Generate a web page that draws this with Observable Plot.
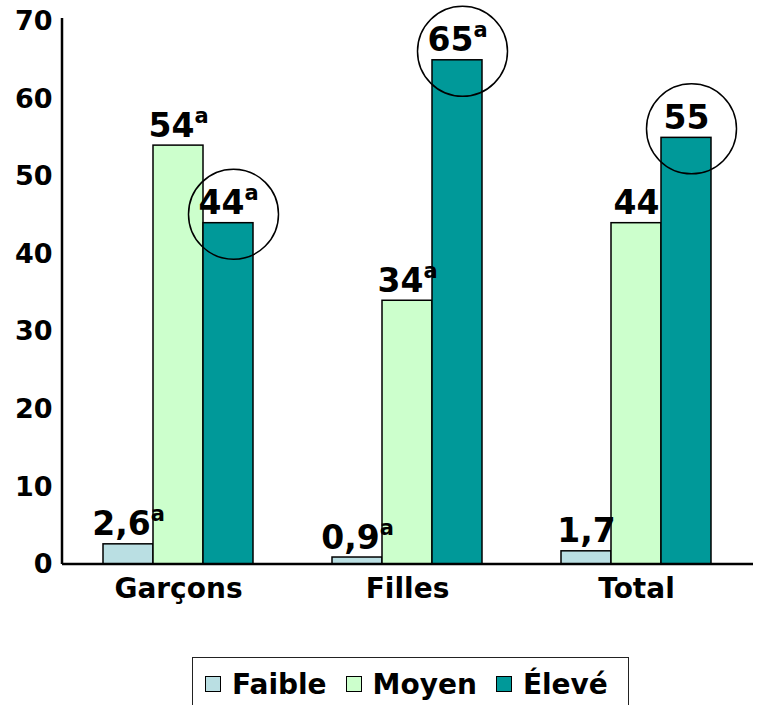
<!DOCTYPE html>
<html><head><meta charset="utf-8">
<script src="https://cdn.jsdelivr.net/npm/d3@7"></script>
<script src="https://cdn.jsdelivr.net/npm/@observablehq/plot@0.6"></script>
<style>
html,body{margin:0;padding:0;background:#fff;overflow:hidden}
#wrap{position:relative;width:759px;height:705px}
#legend{position:absolute;left:192px;top:657px;width:437px;height:60px;border:1.5px solid #222;box-sizing:border-box;display:flex;align-items:center;padding:0 0 6px 12px;font-family:"DejaVu Sans";font-weight:bold;font-size:28px;color:#000}
.item{display:flex;align-items:center;margin-right:19px}
.sw{width:14px;height:14px;border:1.5px solid #000;margin-right:11px}
</style></head><body><div id="wrap"><div id="chart"></div><div id="legend"></div></div>
<script>
const groupes = ["Garçons", "Filles", "Total"];
const niveaux = ["Faible", "Moyen", "Élevé"];
const faible = [2.6, 0.9, 1.7];
const moyen = [54, 34, 44];
const eleve = [44, 65, 55];
const exposant = [true, true, false];
const couleurs = ["#BADFE3", "#CCFFCC", "#009999"];
const yTicks = [0, 10, 20, 30, 40, 50, 60, 70];
const cercles = ["Élevé"];

const series = [faible, moyen, eleve];
const rows = [];
groupes.forEach((g, i) => niveaux.forEach((n, j) => rows.push({groupe: g, niveau: n, valeur: series[j][i], sup: exposant[i]})));

const fmt = v => String(v).replace(".", ",");
const font = "DejaVu Sans";

const plot = Plot.plot({
  width: 759, height: 620,
  marginLeft: 62, marginRight: 6, marginTop: 21, marginBottom: 56,
  style: {fontFamily: font, fontWeight: "bold", color: "#000", background: "#fff"},
  facet: {data: rows, x: "groupe"},
  fx: {domain: groupes, paddingInner: 0.335, paddingOuter: 0.17, label: null, axis: null},
  x: {domain: niveaux, axis: null, padding: 0},
  y: {domain: [0, 70], axis: null, label: null},
  color: {domain: niveaux, range: couleurs},
  marks: [
    Plot.axisY({ticks: yTicks, tickSize: 0, tickPadding: 10, fontSize: 27, fontWeight: "bold", label: null, fill: "#000"}),
    Plot.axisFx({anchor: "bottom", tickSize: 0, tickPadding: 14, fontSize: 28, fontWeight: "bold", label: null, fill: "#000"}),
    Plot.barY(rows, {x: "niveau", y: "valeur", fill: "niveau", stroke: "#000", strokeWidth: 1.5}),
    Plot.text(rows, {x: "niveau", y: "valeur", text: d => fmt(d.valeur) + (d.sup ? "^a" : ""), lineAnchor: "bottom", dy: -9, fontSize: 33, fontWeight: "bold", fill: "#000"}),
    Plot.dot(rows, {filter: d => cercles.includes(d.niveau), x: "niveau", y: "valeur", r: 45, fill: "none", stroke: "#000", strokeWidth: 1.5, dx: 5, dy: -9})
  ]
});

const svg = d3.select(plot);

// superscript "a"
svg.selectAll("text").each(function() {
  const t = this.textContent;
  if (t.includes("^")) {
    const [a, b] = t.split("^");
    this.textContent = a;
    d3.select(this).append("tspan").attr("dy", -14).attr("font-size", 21).text(b);
  }
});

// scales from Plot
const ys = plot.scale("y"), fxs = plot.scale("fx");
const y0 = ys.range[0], yTop = ys.range[1];
const xL = fxs.range[0], xR = fxs.range[1];

// move the y axis (drawn in the first facet) to the outer left edge of the frame
const decalage = fxs.apply(groupes[0]) - xL;
svg.selectAll("g[aria-label]").filter(function() {
  return /^y-axis/.test(this.getAttribute("aria-label"));
}).each(function() {
  const tr = this.getAttribute("transform") || "";
  this.setAttribute("transform", `translate(${-decalage},0) ${tr}`);
});

svg.append("line").attr("x1", xL).attr("x2", xR).attr("y1", y0).attr("y2", y0).attr("stroke", "#000").attr("stroke-width", 2.5);
svg.append("line").attr("x1", xL).attr("x2", xL).attr("y1", y0).attr("y2", yTop - 3).attr("stroke", "#000").attr("stroke-width", 2.5);

document.getElementById("chart").appendChild(plot);

const leg = d3.select("#legend");
niveaux.forEach((n, i) => {
  const it = leg.append("div").attr("class", "item");
  it.append("div").attr("class", "sw").style("background", couleurs[i]);
  it.append("span").text(n);
});
</script></body></html>
